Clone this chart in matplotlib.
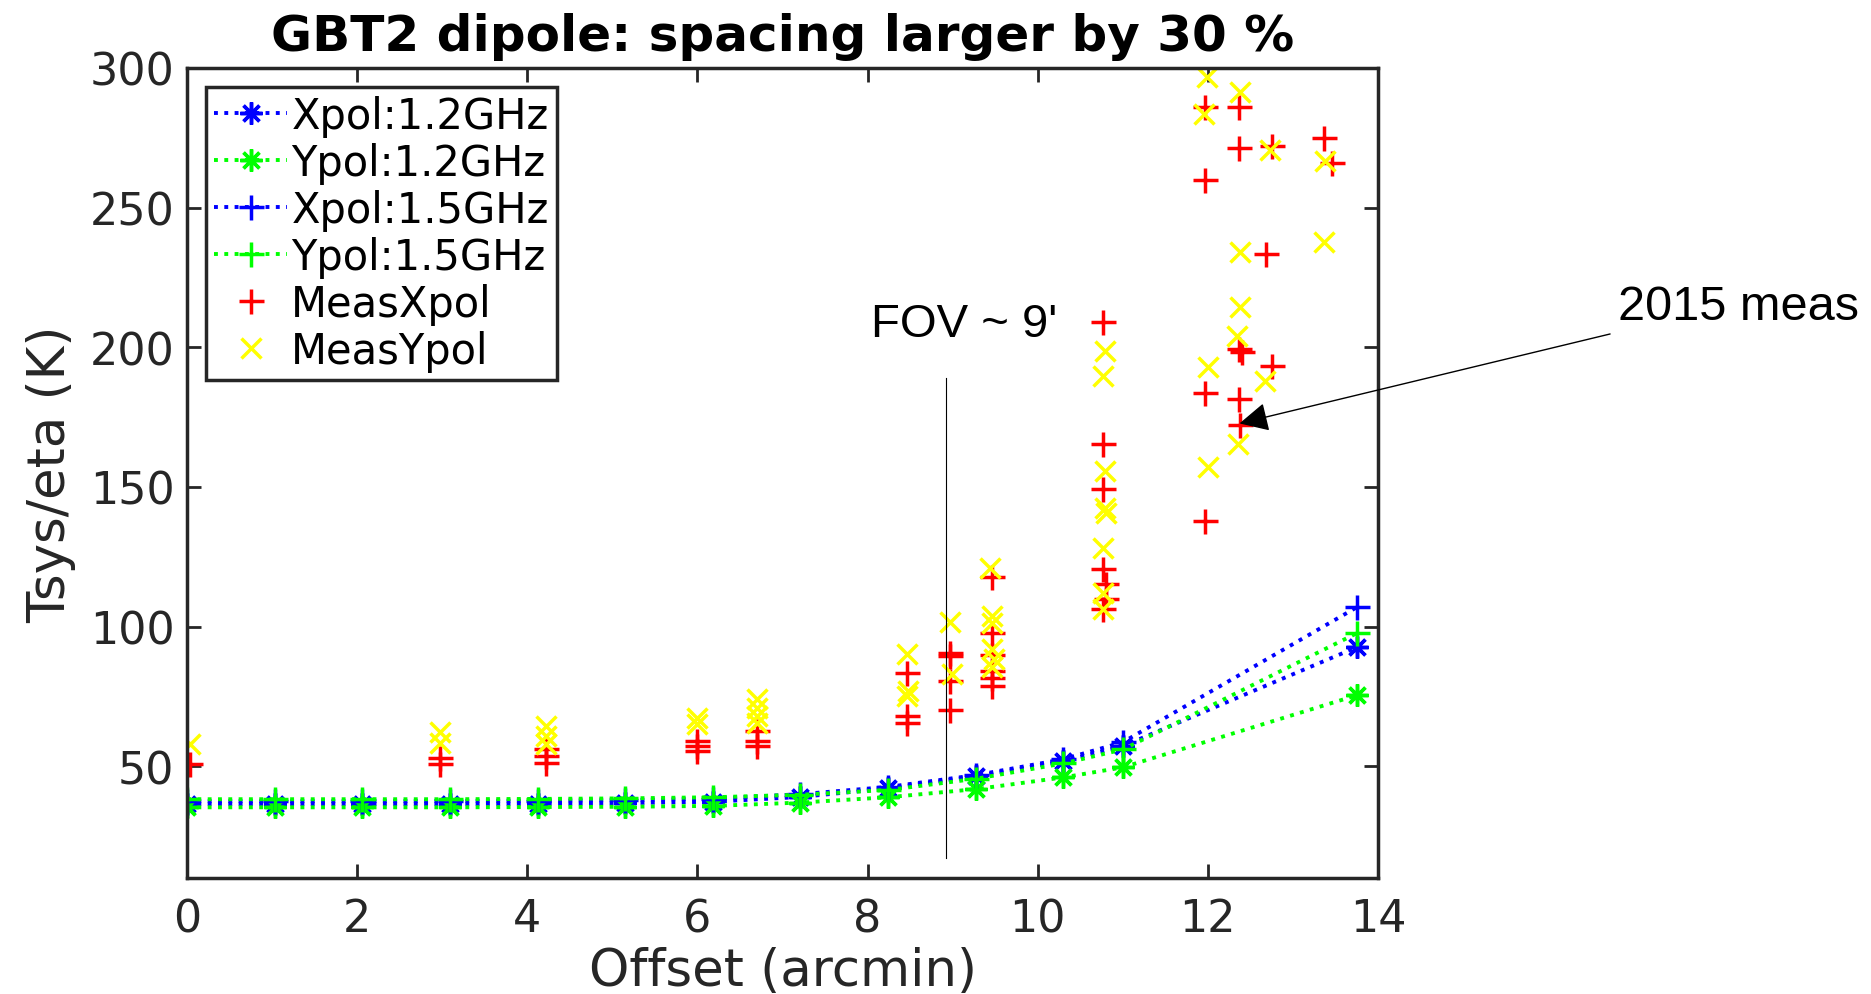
import numpy as np
import matplotlib
matplotlib.use('Agg')
import matplotlib.pyplot as plt

# model curves (offset in arcmin, Tsys/eta in K)
off_model = [0, 1.03, 2.06, 3.09, 4.12, 5.15, 6.18, 7.21, 8.24, 9.27, 10.3, 11.0, 13.75]
xpol_12 = [36.5, 36.5, 36.5, 36.5, 36.6, 36.8, 37.3, 39.0, 42.1, 46.4, 51.8, 57.2, 92.6]
ypol_12 = [35.3, 35.3, 35.3, 35.3, 35.4, 35.5, 35.8, 37.0, 38.9, 41.8, 46.0, 49.6, 75.4]
xpol_15 = [37.5, 37.5, 37.5, 37.6, 37.7, 37.9, 38.4, 40.0, 42.6, 46.8, 52.5, 58.6, 106.9]
ypol_15 = [38.2, 38.2, 38.2, 38.2, 38.3, 38.5, 38.9, 39.8, 41.5, 45.5, 51.0, 56.0, 97.6]

# 2015 measurements
meas_x_off = [0.03,
              2.97, 2.97,
              4.22, 4.22, 4.22,
              5.99, 5.99, 5.99,
              6.70, 6.70, 6.70,
              8.46, 8.46, 8.46,
              8.97, 8.97, 8.97, 8.97,
              9.46, 9.46, 9.46, 9.46, 9.46, 9.46,
              10.77, 10.77, 10.77, 10.77, 10.80, 10.80, 10.77,
              11.97, 11.97, 11.97, 11.97,
              12.37, 12.37, 12.37, 12.40, 12.37, 12.38,
              12.75, 12.68, 12.75,
              13.36, 13.46]
meas_x = [50.7,
          53.1, 50.7,
          56.1, 53.7, 51.3,
          59.1, 57.3, 55.5,
          62.6, 59.1, 57.3,
          83.3, 68.0, 65.4,
          90.5, 89.5, 80.5, 70.2,
          117.6, 97.8, 90.0, 84.0, 81.6, 78.6,
          208.9, 165.3, 149.2, 120.5, 115.2, 109.8, 106.2,
          285.9, 260.0, 183.5, 137.8,
          285.9, 271.5, 199.4, 198.2, 181.4, 172.1,
          272.2, 233.4, 193.4,
          274.9, 266.0]

meas_y_off = [0.03,
              2.97, 2.97,
              4.22, 4.22, 4.22,
              5.99, 5.99,
              6.70, 6.70, 6.70, 6.70,
              8.46, 8.48, 8.46,
              8.97, 8.99,
              9.44, 9.46, 9.46, 9.46, 9.48, 9.46,
              10.79, 10.77, 10.79, 10.79, 10.80, 10.77, 10.77, 10.77,
              11.99, 11.95, 12.0, 12.0,
              12.38, 12.38, 12.38, 12.34, 12.36,
              12.73, 12.67,
              13.38, 13.36]
meas_y = [58.1,
          62.1, 58.5,
          64.4, 60.9, 57.9,
          67.4, 65.0,
          74.0, 71.0, 68.0, 65.6,
          90.1, 77.0, 75.2,
          101.7, 83.0,
          121.1, 103.8, 101.4, 91.9, 88.3, 85.4,
          198.7, 189.8, 155.7, 142.6, 140.8, 128.3, 112.2, 106.2,
          296.7, 283.5, 193.0, 157.0,
          291.3, 234.0, 214.3, 204.2, 165.3,
          270.6, 188.0,
          266.8, 237.6]

asterisk = (8, 2, 0)

fig = plt.figure(figsize=(18.71, 9.95), dpi=100)
ax = fig.add_axes([0.1, 0.1166, 0.6365, 0.8141])

ax.plot(off_model, xpol_12, ':', color='b', lw=2.8, marker=asterisk, ms=16, mew=2.5, label='Xpol:1.2GHz')
ax.plot(off_model, ypol_12, ':', color='#00ff00', lw=2.8, marker=asterisk, ms=16, mew=2.5, label='Ypol:1.2GHz')
ax.plot(off_model, xpol_15, ':', color='b', lw=2.8, marker='+', ms=18, mew=2.5, label='Xpol:1.5GHz')
ax.plot(off_model, ypol_15, ':', color='#00ff00', lw=2.8, marker='+', ms=18, mew=2.5, label='Ypol:1.5GHz')
ax.plot(meas_x_off, meas_x, 'r+', ms=18, mew=2.5, label='MeasXpol')
ax.plot(meas_y_off, meas_y, 'x', color='#ffff00', ms=14, mew=2.5, label='MeasYpol')

# FOV marker
ax.plot([8.92, 8.92], [17, 189], 'k-', lw=0.8)

ax.set_xlim(0, 14)
ax.set_ylim(10, 300)
ax.set_xticks(np.arange(0, 15, 2))
ax.set_yticks(np.arange(50, 301, 50))
ax.tick_params(direction='in', length=10, width=2, top=True, right=True,
               labelsize=32, colors='#262626')
ax.tick_params(axis='x', pad=14)
ax.tick_params(axis='y', pad=9)
for s in ax.spines.values():
    s.set_linewidth(2.5)
    s.set_color('#262626')

ax.set_xlabel('Offset (arcmin)', fontsize=37, color='#262626', labelpad=4)
ax.set_ylabel('Tsys/eta (K)', fontsize=37, color='#262626', labelpad=10)
ax.set_title('GBT2 dipole: spacing larger by 30 %', fontsize=36, fontweight='bold', pad=13)

leg = ax.legend(loc='upper left', fontsize=30, handlelength=1.75, handletextpad=0.1,
                labelspacing=0.12, borderpad=0.2, borderaxespad=0.45,
                fancybox=False, framealpha=1, edgecolor='#262626')
leg.get_frame().set_linewidth(2.5)

fig.text(0.4655, 0.673, "FOV ~ 9'", fontsize=34, family='Liberation Sans', va='center')
fig.text(0.865, 0.691, "2015 meas", fontsize=35, family='Liberation Sans', va='center')
ax.annotate('', xy=(12.34, 172.5), xycoords='data',
            xytext=(0.862, 0.664), textcoords='figure fraction',
            arrowprops=dict(arrowstyle='-|>', mutation_scale=45, lw=1, color='k'))

fig.savefig('out.png', dpi=100)
